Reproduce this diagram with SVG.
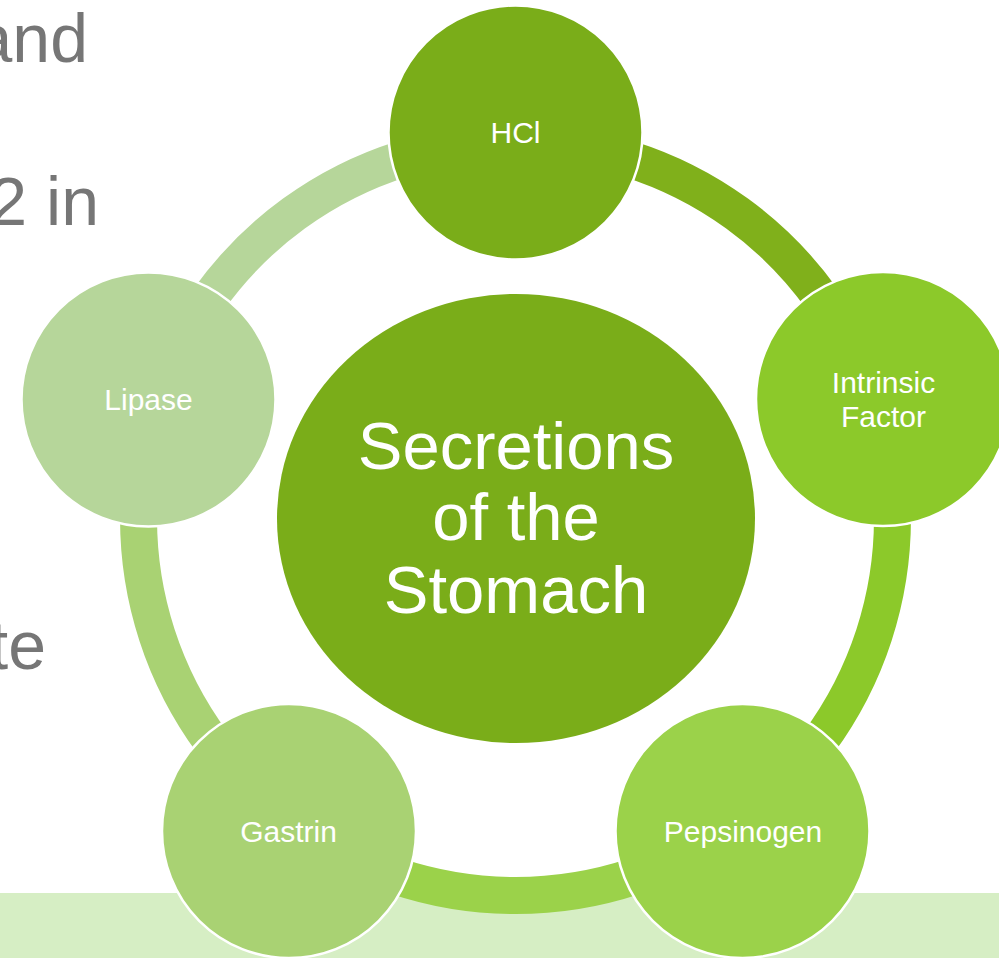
<svg xmlns="http://www.w3.org/2000/svg" width="999" height="958" viewBox="0 0 999 958">
<style>
.bg{fill:#d6eec4}
.side{font-family:"Liberation Sans",Arial,sans-serif;font-size:68px;fill:#767676}
.arc{fill:none;stroke-width:37}
.sat{stroke:#ffffff;stroke-width:2.5}
.lbl{font-family:"Liberation Sans",Arial,sans-serif;font-size:30px;fill:#ffffff;text-anchor:middle}
.ctr{font-family:"Liberation Sans",Arial,sans-serif;font-size:67px;fill:#ffffff;text-anchor:middle}
</style>
<rect width="999" height="958" fill="#ffffff"/>
<rect class="bg" x="0" y="893" width="999" height="65"/>
<g id="side-text">
<text class="side" x="88" y="62" text-anchor="end">and</text>
<text class="side" x="99" y="225" text-anchor="end">2 in</text>
<text class="side" x="46" y="669" text-anchor="end">te</text>
</g>
<g id="connectors">
<path class="arc" stroke="#80b01b" d="M515.5,141.5 A377,377 0 0 1 874,402"/>
<path class="arc" stroke="#8cc92a" d="M874,402 A377,377 0 0 1 737.1,823.5"/>
<path class="arc" stroke="#9bd24a" d="M737.1,823.5 A377,377 0 0 1 293.9,823.5"/>
<path class="arc" stroke="#a9d273" d="M293.9,823.5 A377,377 0 0 1 157,402"/>
<path class="arc" stroke="#b6d69a" d="M157,402 A377,377 0 0 1 515.5,141.5"/>
</g>
<g id="center">
<ellipse cx="516" cy="518.5" rx="239" ry="224.5" fill="#7aad19"/>
<text class="ctr" x="516" y="469">Secretions</text>
<text class="ctr" x="516" y="540">of the</text>
<text class="ctr" x="516" y="613">Stomach</text>
</g>
<g id="hcl">
<circle class="sat" cx="515.5" cy="132.5" r="127" fill="#7aad19"/>
<text class="lbl" x="515.5" y="143">HCl</text>
</g>
<g id="intrinsic-factor">
<circle class="sat" cx="883" cy="399" r="127" fill="#8cc92a"/>
<text class="lbl" x="883.5" y="393">Intrinsic</text>
<text class="lbl" x="883.5" y="427">Factor</text>
</g>
<g id="pepsinogen">
<circle class="sat" cx="742.5" cy="831" r="127" fill="#9bd24a"/>
<text class="lbl" x="743" y="842">Pepsinogen</text>
</g>
<g id="gastrin">
<circle class="sat" cx="289" cy="831" r="127" fill="#a9d273"/>
<text class="lbl" x="288.5" y="842">Gastrin</text>
</g>
<g id="lipase">
<circle class="sat" cx="148.5" cy="399.5" r="127" fill="#b6d69a"/>
<text class="lbl" x="148.5" y="410">Lipase</text>
</g>
</svg>
